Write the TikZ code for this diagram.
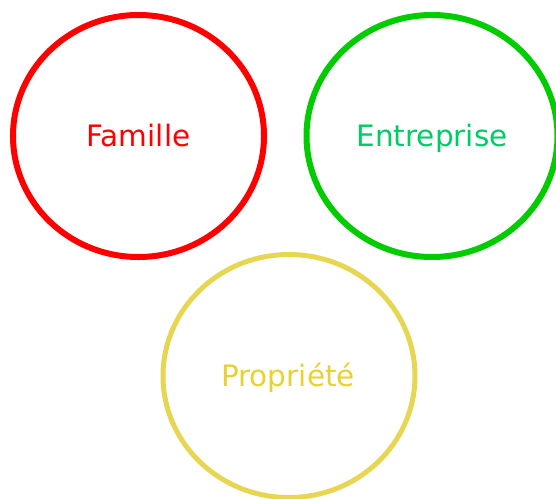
\documentclass[tikz,border=0pt]{standalone}
\usepackage{fontspec}
\setmainfont{DejaVu Sans}
\definecolor{cred}{RGB}{255,0,0}
\definecolor{cgreen}{RGB}{0,204,0}
\definecolor{tgreen}{RGB}{0,204,102}
\definecolor{cyellow}{RGB}{230,214,82}
\definecolor{tyellow}{RGB}{230,210,50}
\begin{document}
\begin{tikzpicture}[x=1pt,y=1pt,
  lbl/.style={anchor=base,inner sep=0pt,font=\fontsize{29.5}{35}\selectfont}]
\useasboundingbox (0,0) rectangle (556,-498);
\draw[cred,line width=6pt] (138.5,-136) ellipse [x radius=125.5,y radius=121];
\draw[cgreen,line width=6pt] (432,-136) ellipse [x radius=125.5,y radius=121];
\draw[cyellow,line width=5pt] (289,-376) ellipse [x radius=126,y radius=121.5];
\node[lbl,text=cred] (fam) at (138.5,-146) {Famille};
\node[lbl,text=tgreen] (ent) at (432,-146) {Entreprise};
\node[lbl,text=tyellow] (pro) at (288,-386) {Propriété};
\end{tikzpicture}
\end{document}
